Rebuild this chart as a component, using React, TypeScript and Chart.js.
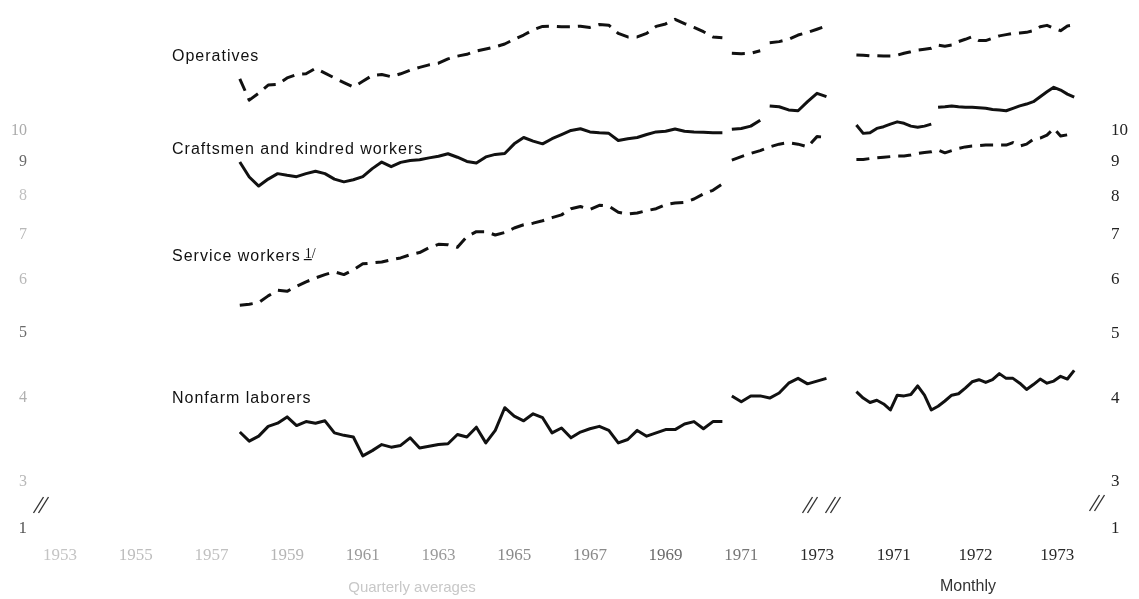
import React, { useEffect, useRef } from "react";
import { Chart, registerables } from "chart.js";

Chart.register(...registerables);

// ---------------- data (millions of persons, ratio scale) ----------------
const QUARTERLY_START_YEAR = 1958;

const operativesQuarterly1958to1970 = [
  11.96, 11.12, 11.39, 11.71, 11.74, 12.0, 12.14, 12.17, 12.4, 12.2, 12.0, 11.81, 11.63,
  11.86, 12.1, 12.14, 12.05, 12.17, 12.32, 12.44, 12.55, 12.62, 12.81, 12.93, 13.01, 13.16,
  13.25, 13.35, 13.48, 13.7, 13.9, 14.15, 14.32, 14.33, 14.3, 14.3, 14.33, 14.27, 14.41,
  14.38, 13.98, 13.81, 13.81, 13.98, 14.32, 14.44, 14.67, 14.46, 14.27, 14.06, 13.81, 13.77,
];
const craftsmenQuarterly1958to1970 = [
  8.99, 8.54, 8.28, 8.48, 8.64, 8.59, 8.55, 8.64, 8.71, 8.64, 8.48, 8.4, 8.46, 8.55, 8.79,
  8.99, 8.85, 8.98, 9.04, 9.06, 9.12, 9.17, 9.25, 9.14, 9.01, 8.96, 9.15, 9.23, 9.26, 9.57,
  9.78, 9.66, 9.57, 9.74, 9.88, 10.02, 10.08, 9.97, 9.94, 9.92, 9.68, 9.74, 9.78, 9.88,
  9.97, 9.99, 10.07, 9.99, 9.97, 9.96, 9.94, 9.94,
];
const serviceQuarterly1958to1970 = [
  5.5, 5.52, 5.55, 5.68, 5.79, 5.77, 5.87, 5.96, 6.04, 6.11, 6.17, 6.11, 6.21, 6.34, 6.36,
  6.38, 6.43, 6.47, 6.54, 6.59, 6.7, 6.78, 6.77, 6.71, 6.96, 7.08, 7.08, 7.0, 7.06, 7.17,
  7.25, 7.29, 7.35, 7.43, 7.5, 7.66, 7.72, 7.64, 7.75, 7.73, 7.57, 7.52, 7.55, 7.61, 7.66,
  7.77, 7.81, 7.83, 7.92, 8.06, 8.16, 8.34,
];
const laborersQuarterly1958to1970 = [
  3.56, 3.45, 3.51, 3.63, 3.67, 3.75, 3.64, 3.69, 3.67, 3.7, 3.55, 3.52, 3.5, 3.28, 3.34,
  3.41, 3.38, 3.4, 3.49, 3.37, 3.39, 3.41, 3.42, 3.53, 3.5, 3.62, 3.43, 3.58, 3.87, 3.76,
  3.7, 3.79, 3.74, 3.55, 3.61, 3.49, 3.56, 3.6, 3.63, 3.58, 3.43, 3.47, 3.58, 3.51, 3.55,
  3.59, 3.59, 3.66, 3.69, 3.6, 3.69, 3.69,
];

const operativesQuarterly1971 = [13.06, 13.04, 13.06, 13.17];
const operativesQuarterly1972to1973 = [13.54, 13.59, 13.7, 13.9, 14.03, 14.18, 14.34];
const craftsmenQuarterly1971 = [10.06, 10.09, 10.17, 10.38];
const craftsmenQuarterly1972to1973 = [10.9, 10.87, 10.75, 10.72, 11.06, 11.38, 11.25];
const serviceQuarterly1971to1973 = [9.05, 9.16, 9.26, 9.35, 9.47, 9.56, 9.61, 9.56, 9.47, 9.81, 9.79];
const laborersQuarterly1971to1973 = [4.03, 3.95, 4.03, 4.03, 4.0, 4.07, 4.21, 4.28, 4.2, 4.24, 4.28];

const operativesMonthly1971to1973 = [
  12.98, 12.97, 12.94, 12.95, 12.94, 12.94, 12.97, 13.06, 13.13, 13.2, 13.24, 13.28,
  13.43, 13.38, 13.43, 13.59, 13.7, 13.82, 13.64, 13.64, 13.75, 13.86, 13.92, 13.98,
  14.0, 14.03, 14.11, 14.3, 14.37, 14.23, 14.11, 14.34, 14.39,
];
const craftsmenMonthly1971 = [10.21, 9.92, 9.94, 10.09, 10.15, 10.24, 10.32, 10.27, 10.17, 10.13, 10.17, 10.24];
const craftsmenMonthly1972to1973 = [
  10.85, 10.87, 10.9, 10.87, 10.85, 10.85, 10.83, 10.81, 10.77, 10.75, 10.72, 10.81,
  10.9, 10.97, 11.06, 11.25, 11.44, 11.62, 11.51, 11.35, 11.23,
];
const serviceMonthly1971to1973 = [
  9.07, 9.07, 9.1, 9.12, 9.14, 9.16, 9.18, 9.18, 9.21, 9.26, 9.29, 9.31,
  9.37, 9.28, 9.35, 9.42, 9.47, 9.5, 9.51, 9.53, 9.53, 9.53, 9.53, 9.61,
  9.5, 9.56, 9.72, 9.76, 9.86, 10.09, 9.83, 9.87, 9.9,
];
const laborersMonthly1971to1973 = [
  4.09, 4.0, 3.94, 3.97, 3.92, 3.84, 4.04, 4.03, 4.05, 4.17, 4.04, 3.84,
  3.89, 3.96, 4.04, 4.06, 4.14, 4.23, 4.26, 4.22, 4.26, 4.35, 4.28, 4.28,
  4.21, 4.12, 4.19, 4.27, 4.21, 4.24, 4.31, 4.27, 4.4,
];

const quarterlyTickYears = [1953, 1955, 1957, 1959, 1961, 1963, 1965, 1967, 1969, 1971, 1973];
const monthlyTickYears = [1971, 1972, 1973];
const yTickValues = [3, 4, 5, 6, 7, 8, 9, 10];
const seriesLabels = ["Operatives", "Craftsmen and kindred workers", "Service workers", "Nonfarm laborers"];
const footnoteMark = "1/";
const panelCaptions = ["Quarterly averages", "Monthly"];
const brokenAxisLabel = "1";

// ---------------- axis geometry ----------------
const X_MIN = 1953.077;
const X_MAX = 1980.977;
const Y_MIN = 2.458;
const Y_MAX = 15.41;
// monthly panel is drawn on the same axis, stretched and placed after the quarterly panel
const MONTHLY_ORIGIN = 1975.53; // axis unit of mid-1971 in the monthly panel
const MONTHLY_STRETCH = 2.158;
const monthlyAxisValue = (t: number) => MONTHLY_ORIGIN + (t - 1971.5) * MONTHLY_STRETCH;

const quarterly = (year: number, quarter: number, values: number[]) =>
  values.map((v, i) => {
    const q = quarter - 1 + i;
    return { x: year + Math.floor(q / 4) + ((q % 4) + 1) / 4, y: v };
  });
const monthly = (year: number, month: number, values: number[]) =>
  values.map((v, i) => {
    const m = month - 1 + i;
    return { x: monthlyAxisValue(year + Math.floor(m / 12) + ((m % 12) + 0.5) / 12), y: v };
  });

const xTickValues = [
  ...quarterlyTickYears.map((y) => y + 0.5),
  ...monthlyTickYears.map((y) => monthlyAxisValue(y + 0.5)),
];
const xTickLabels = [...quarterlyTickYears, ...monthlyTickYears].map(String);
const xTickColors = [
  "#c4c4c4", "#bdbdbd", "#c0c0c0", "#b5b5b5", "#9a9a9a", "#9a9a9a", "#8a8a8a",
  "#8a8a8a", "#6a6a6a", "#777", "#2a2a2a", "#2a2a2a", "#2a2a2a", "#2a2a2a",
];
const leftTickColors = ["#b8b8b8", "#b0b0b0", "#6a6a6a", "#b8b8b8", "#b8b8b8", "#c0c0c0", "#6a6a6a", "#aaa"];

const SOLID: number[] = [];
const DASH = [13, 8];

const line = (data: { x: number; y: number }[], dash: number[]) => ({
  data,
  borderColor: "#111",
  borderWidth: 3,
  borderDash: dash,
  borderCapStyle: "butt" as const,
  borderJoinStyle: "round" as const,
  pointRadius: 0,
  tension: 0,
  fill: false,
  spanGaps: false,
});

const drawBreak = (ctx: CanvasRenderingContext2D, cx: number, cy: number) => {
  ctx.save();
  ctx.strokeStyle = "#333";
  ctx.lineWidth = 1.4;
  for (const off of [-2.5, 2.5]) {
    ctx.beginPath();
    ctx.moveTo(cx + off - 5, cy + 8);
    ctx.lineTo(cx + off + 5, cy - 8);
    ctx.stroke();
  }
  ctx.restore();
};

const annotationPlugin = {
  id: "annotations",
  afterDraw(chart: any) {
    const ctx: CanvasRenderingContext2D = chart.ctx;
    ctx.save();
    ctx.fillStyle = "#111";
    ctx.textBaseline = "middle";
    ctx.textAlign = "left";
    ctx.font = '16px "Liberation Sans", Arial, sans-serif';
    (ctx as any).letterSpacing = "1px";
    const labelY = [57, 150, 257, 399];
    seriesLabels.forEach((txt, i) => ctx.fillText(txt, 172, labelY[i]));
    // footnote mark after "Service workers"
    const w = ctx.measureText(seriesLabels[2]).width;
    (ctx as any).letterSpacing = "0px";
    ctx.font = '14px "Liberation Serif", serif';
    const fx = 172 + w + 4;
    ctx.textBaseline = "alphabetic";
    ctx.fillText(footnoteMark, fx, 258);
    ctx.fillRect(fx - 1, 259, 8, 1.2);

    // panel captions
    ctx.textAlign = "center";
    ctx.textBaseline = "middle";
    ctx.font = '15px "Liberation Sans", Arial, sans-serif';
    ctx.fillStyle = "#c8c8c8";
    ctx.fillText(panelCaptions[0], 412, 588);
    ctx.fillStyle = "#333";
    ctx.font = '16px "Liberation Sans", Arial, sans-serif';
    ctx.fillText(panelCaptions[1], 968, 587);

    // broken-axis "1" labels
    ctx.font = '17px "Liberation Serif", serif';
    ctx.fillStyle = "#555";
    ctx.textAlign = "right";
    ctx.fillText(brokenAxisLabel, 27, 529);
    ctx.fillStyle = "#222";
    ctx.textAlign = "left";
    ctx.fillText(brokenAxisLabel, 1111, 529);

    drawBreak(ctx, 41, 505);
    drawBreak(ctx, 1097, 503);
    drawBreak(ctx, 810, 505);
    drawBreak(ctx, 833, 505);
    ctx.restore();
  },
};

export default function App() {
  const ref = useRef<HTMLCanvasElement | null>(null);

  useEffect(() => {
    if (!ref.current) return;
    const chart = new Chart(ref.current, {
      type: "line",
      data: {
        datasets: [
          line(quarterly(QUARTERLY_START_YEAR, 1, operativesQuarterly1958to1970), DASH),
          line(quarterly(1971, 1, operativesQuarterly1971), DASH),
          line(quarterly(1972, 1, operativesQuarterly1972to1973), DASH),
          line(monthly(1971, 1, operativesMonthly1971to1973), DASH),

          line(quarterly(QUARTERLY_START_YEAR, 1, craftsmenQuarterly1958to1970), SOLID),
          line(quarterly(1971, 1, craftsmenQuarterly1971), SOLID),
          line(quarterly(1972, 1, craftsmenQuarterly1972to1973), SOLID),
          line(monthly(1971, 1, craftsmenMonthly1971), SOLID),
          line(monthly(1972, 1, craftsmenMonthly1972to1973), SOLID),

          line(quarterly(QUARTERLY_START_YEAR, 1, serviceQuarterly1958to1970), DASH),
          line(quarterly(1971, 1, serviceQuarterly1971to1973), DASH),
          line(monthly(1971, 1, serviceMonthly1971to1973), DASH),

          line(quarterly(QUARTERLY_START_YEAR, 1, laborersQuarterly1958to1970), SOLID),
          line(quarterly(1971, 1, laborersQuarterly1971to1973), SOLID),
          line(monthly(1971, 1, laborersMonthly1971to1973), SOLID),
        ],
      },
      options: {
        responsive: false,
        animation: false,
        parsing: true,
        layout: { padding: { top: 5, left: 0, right: 0, bottom: 0 } },
        plugins: { legend: { display: false }, tooltip: { enabled: false }, title: { display: false } },
        scales: {
          x: {
            type: "linear",
            min: X_MIN,
            max: X_MAX,
            afterBuildTicks: (s: any) => {
              s.ticks = xTickValues.map((v) => ({ value: v }));
            },
            afterFit: (s: any) => {
              s.height = 59;
              s.paddingLeft = 0;
              s.paddingRight = 0;
            },
            ticks: {
              autoSkip: false,
              maxRotation: 0,
              minRotation: 0,
              padding: 5,
              font: { family: '"Liberation Serif", serif', size: 17 },
              color: (c: any) => xTickColors[c.index] || "#333",
              callback: (_v: any, i: number) => xTickLabels[i],
            },
            grid: { display: false, drawTicks: false },
            border: { display: false },
          },
          y: {
            type: "logarithmic",
            position: "left",
            min: Y_MIN,
            max: Y_MAX,
            afterBuildTicks: (s: any) => {
              s.ticks = yTickValues.map((v) => ({ value: v }));
            },
            afterFit: (s: any) => {
              s.width = 44;
              s.paddingTop = 0;
              s.paddingBottom = 0;
            },
            ticks: {
              crossAlign: "near",
              padding: 17,
              font: { family: '"Liberation Serif", serif', size: 16 },
              color: (c: any) => leftTickColors[c.index] || "#aaa",
              callback: (v: any) => String(v),
            },
            grid: { display: false, drawTicks: false },
            border: { display: false },
          },
          y2: {
            type: "logarithmic",
            position: "right",
            min: Y_MIN,
            max: Y_MAX,
            afterBuildTicks: (s: any) => {
              s.ticks = yTickValues.map((v) => ({ value: v }));
            },
            afterFit: (s: any) => {
              s.width = 39;
              s.paddingTop = 0;
              s.paddingBottom = 0;
            },
            ticks: {
              crossAlign: "near",
              padding: 11,
              font: { family: '"Liberation Serif", serif', size: 17 },
              color: "#222",
              callback: (v: any) => String(v),
            },
            grid: { display: false, drawTicks: false },
            border: { display: false },
          },
        },
      },
      plugins: [annotationPlugin],
    } as any);
    return () => chart.destroy();
  }, []);

  return (
    <div style={{ position: "fixed", left: 0, top: 0, width: 1139, height: 599, background: "#fff" }}>
      <canvas ref={ref} width={1139} height={599} style={{ width: 1139, height: 599, display: "block" }} />
    </div>
  );
}
